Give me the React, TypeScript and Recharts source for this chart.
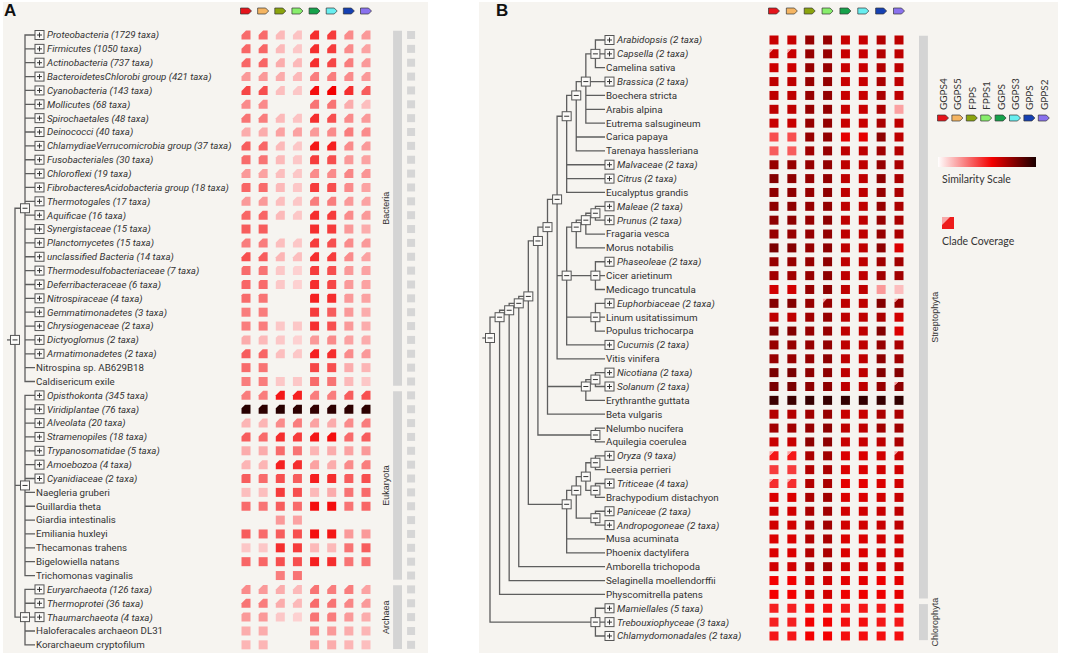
import React from "react";
import { ScatterChart, Scatter, XAxis, YAxis, ReferenceArea } from "recharts";

const W = 1084;
const H = 665;

// column genes (header glyphs + legend)
const genes = ["GGPS4", "GGPS5", "FPPS", "FPPS1", "GGPS", "GGPS3", "GPPS", "GPPS2"];
const geneColors = ["#e5141b", "#f5b562", "#8ba40e", "#88ee6c", "#16a24b", "#68eef0", "#1540b2", "#8a72ee"];

// ---------- panel A ----------
const taxaA = [
  "Proteobacteria (1729 taxa)", "Firmicutes (1050 taxa)", "Actinobacteria (737 taxa)",
  "BacteroidetesChlorobi group (421 taxa)", "Cyanobacteria (143 taxa)", "Mollicutes (68 taxa)",
  "Spirochaetales (48 taxa)", "Deinococci (40 taxa)", "ChlamydiaeVerrucomicrobia group (37 taxa)",
  "Fusobacteriales (30 taxa)", "Chloroflexi (19 taxa)", "FibrobacteresAcidobacteria group (18 taxa)",
  "Thermotogales (17 taxa)", "Aquificae (16 taxa)", "Synergistaceae (15 taxa)", "Planctomycetes (15 taxa)",
  "unclassified Bacteria (14 taxa)", "Thermodesulfobacteriaceae (7 taxa)", "Deferribacteraceae (6 taxa)",
  "Nitrospiraceae (4 taxa)", "Gemmatimonadetes (3 taxa)", "Chrysiogenaceae (2 taxa)", "Dictyoglomus (2 taxa)",
  "Armatimonadetes (2 taxa)", "Nitrospina sp. AB629B18", "Caldisericum exile",
  "Opisthokonta (345 taxa)", "Viridiplantae (76 taxa)", "Alveolata (20 taxa)", "Stramenopiles (18 taxa)",
  "Trypanosomatidae (5 taxa)", "Amoebozoa (4 taxa)", "Cyanidiaceae (2 taxa)", "Naegleria gruberi",
  "Guillardia theta", "Giardia intestinalis", "Emiliania huxleyi", "Thecamonas trahens",
  "Bigelowiella natans", "Trichomonas vaginalis",
  "Euryarchaeota (126 taxa)", "Thermoprotei (36 taxa)", "Thaumarchaeota (4 taxa)",
  "Haloferacales archaeon DL31", "Korarchaeum cryptofilum",
];

// similarity 0-100 per gene column, 0 = no hit
const simA = [
  [32, 32, 15, 13, 45, 42, 25, 22],
  [33, 33, 15, 12, 45, 42, 25, 20],
  [33, 33, 18, 15, 45, 40, 28, 22],
  [22, 22, 18, 15, 28, 28, 25, 22],
  [40, 38, 14, 12, 52, 55, 45, 35],
  [25, 25, 0, 0, 30, 30, 18, 14],
  [30, 28, 15, 13, 45, 38, 25, 22],
  [18, 18, 20, 20, 22, 25, 28, 25],
  [35, 33, 15, 12, 50, 48, 25, 22],
  [32, 30, 15, 12, 42, 38, 22, 20],
  [22, 20, 14, 12, 25, 25, 26, 23],
  [33, 32, 15, 12, 42, 38, 25, 20],
  [22, 22, 14, 12, 28, 28, 22, 20],
  [33, 33, 15, 12, 45, 42, 25, 22],
  [35, 35, 0, 0, 45, 42, 22, 18],
  [28, 28, 14, 12, 42, 38, 25, 22],
  [38, 35, 16, 14, 45, 42, 25, 20],
  [32, 30, 12, 10, 42, 38, 22, 20],
  [33, 32, 12, 10, 45, 40, 22, 20],
  [32, 30, 0, 0, 48, 45, 22, 20],
  [28, 28, 0, 0, 42, 35, 22, 18],
  [28, 28, 12, 12, 45, 38, 22, 18],
  [18, 15, 12, 10, 22, 25, 20, 18],
  [35, 33, 14, 12, 48, 45, 25, 22],
  [32, 30, 0, 0, 40, 38, 18, 16],
  [28, 28, 12, 12, 32, 30, 15, 12],
  [28, 28, 50, 48, 28, 28, 35, 38],
  [97, 96, 97, 96, 95, 96, 96, 96],
  [16, 16, 25, 28, 20, 18, 25, 28],
  [35, 32, 45, 42, 50, 52, 32, 35],
  [18, 18, 32, 30, 16, 18, 20, 22],
  [16, 16, 48, 45, 20, 18, 25, 28],
  [35, 32, 38, 35, 48, 45, 35, 38],
  [14, 14, 42, 38, 15, 18, 30, 32],
  [32, 30, 35, 32, 52, 52, 30, 33],
  [0, 0, 22, 20, 0, 0, 0, 0],
  [35, 32, 35, 38, 52, 50, 22, 22],
  [12, 12, 45, 42, 15, 15, 30, 35],
  [33, 33, 38, 38, 48, 45, 30, 30],
  [0, 0, 28, 30, 0, 0, 0, 0],
  [25, 22, 18, 15, 30, 28, 28, 20],
  [30, 28, 18, 15, 32, 30, 26, 22],
  [22, 22, 12, 10, 30, 28, 22, 18],
  [18, 18, 0, 0, 25, 22, 18, 16],
  [16, 16, 0, 0, 20, 18, 16, 14],
];

// clade coverage per row (1 = full)
const covA = [
  0.5, 0.5, 0.5, 0.5, 0.45, 0.5, 0.5, 0.6, 0.5, 0.75, 0.55, 0.8, 0.55, 0.55, 1, 0.55, 0.45, 0.8, 0.8, 0.85,
  1, 1, 0.75, 0.55, 1, 1,
  0.5, 0.6, 0.55, 0.55, 1, 0.6, 0.85, 1, 1, 1, 1, 1, 1, 1,
  0.5, 0.5, 0.8, 1, 1,
];

const treeA = [
  [0, 1, 2, 3, 4, 5, 6, 7, 8, 9, 10, 11, 12, 13, 14, 15, 16, 17, 18, 19, 20, 21, 22, 23, 24, 25],
  [26, 27, 28, 29, 30, 31, 32, 33, 34, 35, 36, 37, 38, 39],
  [40, 41, 42, 43, 44],
];

const groupsA = [
  { name: "Bacteria", first: 0, last: 25 },
  { name: "Eukaryota", first: 26, last: 39 },
  { name: "Archaea", first: 40, last: 44 },
];

// ---------- panel B ----------
const taxaB = [
  "Arabidopsis (2 taxa)", "Capsella (2 taxa)", "Camelina sativa", "Brassica (2 taxa)", "Boechera stricta",
  "Arabis alpina", "Eutrema salsugineum", "Carica papaya", "Tarenaya hassleriana", "Malvaceae (2 taxa)",
  "Citrus (2 taxa)", "Eucalyptus grandis", "Maleae (2 taxa)", "Prunus (2 taxa)", "Fragaria vesca",
  "Morus notabilis", "Phaseoleae (2 taxa)", "Cicer arietinum", "Medicago truncatula", "Euphorbiaceae (2 taxa)",
  "Linum usitatissimum", "Populus trichocarpa", "Cucumis (2 taxa)", "Vitis vinifera", "Nicotiana (2 taxa)",
  "Solanum (2 taxa)", "Erythranthe guttata", "Beta vulgaris", "Nelumbo nucifera", "Aquilegia coerulea",
  "Oryza (9 taxa)", "Leersia perrieri", "Triticeae (4 taxa)", "Brachypodium distachyon", "Paniceae (2 taxa)",
  "Andropogoneae (2 taxa)", "Musa acuminata", "Phoenix dactylifera", "Amborella trichopoda",
  "Selaginella moellendorffii", "Physcomitrella patens", "Mamiellales (5 taxa)", "Trebouxiophyceae (3 taxa)",
  "Chlamydomonadales (2 taxa)",
];

const simB = [
  [64, 64, 74, 74, 64, 64, 68, 66],
  [64, 64, 74, 74, 64, 64, 68, 66],
  [63, 63, 74, 74, 64, 64, 68, 66],
  [66, 66, 74, 75, 64, 64, 70, 66],
  [66, 66, 74, 75, 64, 64, 70, 66],
  [66, 66, 74, 75, 64, 64, 70, 20],
  [64, 64, 74, 75, 64, 64, 70, 66],
  [38, 38, 74, 75, 58, 58, 76, 66],
  [35, 35, 72, 74, 66, 66, 72, 68],
  [74, 74, 74, 75, 66, 66, 74, 70],
  [78, 76, 74, 75, 66, 66, 76, 70],
  [76, 76, 74, 76, 66, 66, 74, 70],
  [76, 76, 74, 75, 66, 66, 74, 70],
  [76, 76, 74, 76, 66, 66, 74, 70],
  [74, 74, 74, 75, 66, 66, 74, 70],
  [80, 78, 74, 76, 66, 66, 76, 60],
  [74, 74, 74, 76, 66, 66, 72, 72],
  [72, 72, 74, 76, 66, 66, 72, 72],
  [62, 62, 74, 76, 66, 66, 22, 14],
  [78, 78, 74, 74, 66, 66, 78, 74],
  [66, 66, 72, 74, 66, 66, 70, 62],
  [78, 78, 74, 74, 66, 66, 78, 60],
  [74, 74, 74, 75, 66, 66, 74, 70],
  [74, 74, 74, 76, 66, 66, 76, 72],
  [80, 80, 76, 76, 66, 66, 78, 78],
  [80, 80, 76, 76, 66, 66, 74, 76],
  [93, 93, 94, 94, 95, 95, 94, 95],
  [68, 68, 72, 74, 64, 64, 70, 70],
  [72, 72, 74, 76, 66, 66, 72, 72],
  [64, 64, 76, 76, 64, 64, 66, 70],
  [50, 50, 70, 72, 60, 60, 62, 64],
  [42, 42, 68, 70, 60, 60, 62, 62],
  [45, 45, 68, 70, 58, 58, 60, 62],
  [60, 60, 70, 72, 60, 60, 62, 64],
  [62, 62, 70, 72, 62, 62, 64, 66],
  [62, 62, 70, 72, 62, 62, 64, 66],
  [60, 60, 68, 70, 60, 60, 62, 62],
  [60, 60, 68, 70, 60, 60, 62, 62],
  [62, 62, 70, 72, 62, 62, 62, 64],
  [55, 55, 62, 62, 58, 58, 56, 58],
  [55, 55, 62, 62, 56, 56, 56, 58],
  [48, 48, 52, 52, 50, 50, 50, 52],
  [48, 48, 55, 55, 52, 52, 50, 50],
  [50, 50, 55, 55, 52, 52, 52, 52],
];

// cells with partial clade coverage
const partialB = [
  { row: 1, col: 0, cov: 0.6 }, { row: 1, col: 1, cov: 0.6 },
  { row: 19, col: 3, cov: 0.6 }, { row: 19, col: 7, cov: 0.6 },
  { row: 25, col: 7, cov: 0.6 },
  { row: 30, col: 0, cov: 0.5 }, { row: 30, col: 1, cov: 0.5 }, { row: 30, col: 7, cov: 0.6 },
  { row: 32, col: 0, cov: 0.6 }, { row: 32, col: 1, cov: 0.6 },
];

const treeB = [
  [
    [
      [
        [
          [
            [
              [
                [[[[0, 1, 2], 3, 4, 5, 6], 7, 8], 9, 10, 11],
                [[[[12, 13], 14], 15], [16, 17, 18], [19, 20, 21], 22],
                23,
              ],
              [[24, 25], 26],
              27,
            ],
            [28, 29],
          ],
          [[[[30, 31], [32, 33]], [34, 35]], 36, 37],
        ],
        38,
      ],
      39,
    ],
    40,
  ],
  [41, 42, 43],
];

const groupsB = [
  { name: "Streptophyta", first: 0, last: 40 },
  { name: "Chlorophyta", first: 41, last: 43 },
];

// ---------- layout ----------
const ROW = 13.86;
const A_ROW0 = 35;
const B_ROW0 = 40;
const TOP_ROW = -2.5;
const HEAD_A = (11 - A_ROW0) / ROW;
const HEAD_B = (11 - B_ROW0) / ROW;
const GROUP_A = 8.84;
const GROUP_B = 8.37;
const MARK_A = 9.63;
const CELL = 9;
const TEXT = "#333";
const LINE = "#5e5e5e";
const FONT = "Roboto, sans-serif";

// padding so that value a lands on pixel pa and value b on pixel pb
function pad(d0: number, d1: number, a: number, pa: number, b: number, pb: number, size: number) {
  const k = (pb - pa) / (b - a);
  return [pa - (a - d0) * k, size - (pb + (d1 - b) * k)];
}

function simColor(v: number) {
  const t = v / 100;
  if (t <= 0.55) {
    const k = t / 0.55;
    const g = Math.round(255 * (1 - k));
    return `rgb(${255 - Math.round(12 * k)},${g},${g})`;
  }
  const k = (t - 0.55) / 0.45;
  return `rgb(${Math.round(243 - k * (243 - 26))},0,0)`;
}

type Tree = number | Tree[];
const treeHeight = (t: Tree): number => (typeof t === "number" ? 0 : 1 + Math.max(...t.map(treeHeight)));

function layoutTree(tree: Tree) {
  const top = treeHeight(tree);
  const paths: { x: number; y: number }[][] = [];
  const nodes: { x: number; y: number }[] = [];
  const walk = (t: Tree): { x: number; y: number; first: number; last: number } => {
    if (typeof t === "number") return { x: top, y: t, first: t, last: t };
    const x = top - treeHeight(t);
    const kids = t.map(walk);
    const first = kids[0].first;
    const last = kids[kids.length - 1].last;
    const y = (first + last) / 2;
    const pts = [{ x: kids[0].x, y: kids[0].y }, { x, y: kids[0].y }];
    kids.slice(1).forEach((k) => pts.push({ x, y: k.y }, { x: k.x, y: k.y }, { x, y: k.y }));
    paths.push(pts);
    nodes.push({ x, y });
    return { x, y, first, last };
  };
  const root = walk(tree);
  paths.push([{ x: -0.8, y: root.y }, { x: 0, y: root.y }]);
  return { top, paths, nodes };
}

const lytA = layoutTree(treeA);
const lytB = layoutTree(treeB);

const cellsA = simA.flatMap((row, r) => row.map((v, c) => ({ x: c, y: r, v, cov: covA[r] }))).filter((d) => d.v > 0);
const cellsB = simB
  .flatMap((row, r) =>
    row.map((v, c) => {
      const p = partialB.find((q) => q.row === r && q.col === c);
      return { x: c, y: r, v, cov: p ? p.cov : 1 };
    })
  )
  .filter((d) => d.v > 0);

const leavesA = taxaA.map((name, i) => ({ x: lytA.top, y: i, name }));
const leavesB = taxaB.map((name, i) => ({ x: lytB.top, y: i, name }));
const headA = genes.map((g, i) => ({ x: i, y: HEAD_A, color: geneColors[i] }));
const headB = genes.map((g, i) => ({ x: i, y: HEAD_B, color: geneColors[i] }));
const marksA = taxaA.map((_, i) => ({ x: MARK_A, y: i }));

// axis domains wide enough to hold every mark (no clipping, no domain growth)
const TREE_A_DOM = [-1, lytA.top];
const TREE_B_DOM = [-1, lytB.top];
const CELLS_A_DOM = [-1, 10];
const CELLS_B_DOM = [-1, 9];
const ROWS_A_DOM = [TOP_ROW, taxaA.length];
const ROWS_B_DOM = [TOP_ROW, taxaB.length];

const pTreeA = pad(TREE_A_DOM[0], TREE_A_DOM[1], 0, 15, lytA.top, 35, W);
const pTreeB = pad(TREE_B_DOM[0], TREE_B_DOM[1], 0, 490, lytB.top, 605, W);
const pCellsA = pad(CELLS_A_DOM[0], CELLS_A_DOM[1], 0, 246, 7, 366, W);
const pCellsB = pad(CELLS_B_DOM[0], CELLS_B_DOM[1], 0, 774, 7, 899, W);
const pRowsA = pad(ROWS_A_DOM[0], ROWS_A_DOM[1], 0, A_ROW0, 1, A_ROW0 + ROW, H);
const pRowsB = pad(ROWS_B_DOM[0], ROWS_B_DOM[1], 0, B_ROW0, 1, B_ROW0 + ROW, H);

// shapes
const NodeBox = (p: any) => (
  <g>
    <rect x={p.cx - 4.5} y={p.cy - 4.5} width={9} height={9} fill="#fbfaf8" stroke="#555" strokeWidth={1} />
    <line x1={p.cx - 2.5} x2={p.cx + 2.5} y1={p.cy} y2={p.cy} stroke="#333" strokeWidth={1} />
  </g>
);

const leafShape = (fontSize: number) => (p: any) => {
  const { cx, cy, payload } = p;
  const collapsed = /taxa\)$/.test(payload.name);
  return (
    <g>
      {collapsed && (
        <g>
          <rect x={cx} y={cy - 4.5} width={9} height={9} fill="#fbfaf8" stroke="#555" strokeWidth={1} />
          <line x1={cx + 2} x2={cx + 7} y1={cy} y2={cy} stroke="#333" strokeWidth={1} />
          <line x1={cx + 4.5} x2={cx + 4.5} y1={cy - 2.5} y2={cy + 2.5} stroke="#333" strokeWidth={1} />
        </g>
      )}
      <text
        x={cx + (collapsed ? 12 : 1)}
        y={cy}
        dy="0.35em"
        fontFamily={FONT}
        fontSize={fontSize}
        fontStyle={collapsed ? "italic" : "normal"}
        fill={TEXT}
      >
        {payload.name}
      </text>
    </g>
  );
};

const cellShape = (tint: boolean) => (p: any) => {
  const { cx, cy, payload } = p;
  const s = CELL;
  const x0 = cx - s / 2;
  const y0 = cy - s / 2;
  const fill = simColor(payload.v);
  const cut = s * (1 - payload.cov);
  if (cut < 0.5) return <rect x={x0} y={y0} width={s} height={s} fill={fill} />;
  return (
    <g>
      <polygon
        points={`${x0},${y0 + cut} ${x0 + cut},${y0} ${x0 + s},${y0} ${x0 + s},${y0 + s} ${x0},${y0 + s}`}
        fill={fill}
      />
      {tint && <polygon points={`${x0},${y0} ${x0 + cut},${y0} ${x0},${y0 + cut}`} fill={simColor(Math.min(payload.v, 55) * 0.4)} />}
    </g>
  );
};

const geneIcon = (x: number, y: number, color: string) => (
  <path d={`M${x - 5.5},${y - 3} h8 l3,3 l-3,3 h-8 z`} fill={color} stroke="#333" strokeWidth={0.7} />
);
const IconShape = (p: any) => geneIcon(p.cx, p.cy, p.payload.color);

const MarkShape = (p: any) => <rect x={p.cx - 4} y={p.cy - 4} width={8} height={8} fill="#d6d6d6" />;

const groupLabel = (dx: number) => (p: any) => (
  <text
    x={p.cx + dx}
    y={p.cy}
    transform={`rotate(-90 ${p.cx + dx} ${p.cy})`}
    textAnchor="middle"
    dominantBaseline="central"
    fontFamily="'Liberation Sans', Arial, sans-serif"
    fontSize={9}
    fill={TEXT}
  >
    {p.payload.name}
  </text>
);

const Empty = () => <g />;

export default function App() {
  return (
    <div style={{ position: "absolute", left: 0, top: 0, width: W, height: H, background: "#fff", overflow: "hidden" }}>
      <div style={{ position: "absolute", left: 3, top: 2, width: 425, height: 651, background: "#f6f4f0" }} />
      <div style={{ position: "absolute", left: 479, top: 2, width: 579, height: 651, background: "#f6f4f0" }} />
      <div style={{ position: "absolute", left: 4, top: 1, font: "bold 17px 'Liberation Sans', Arial, sans-serif", color: "#111" }}>A</div>
      <div style={{ position: "absolute", left: 496, top: 1, font: "bold 17px 'Liberation Sans', Arial, sans-serif", color: "#111" }}>B</div>
      <div style={{ position: "absolute", left: 0, top: 0 }}>
        <ScatterChart width={W} height={H} margin={{ top: 0, right: 0, bottom: 0, left: 0 }}>
          <XAxis xAxisId="treeA" type="number" dataKey="x" domain={TREE_A_DOM} padding={{ left: pTreeA[0], right: pTreeA[1] }} hide />
          <XAxis xAxisId="cellsA" type="number" dataKey="x" domain={CELLS_A_DOM} padding={{ left: pCellsA[0], right: pCellsA[1] }} hide />
          <XAxis xAxisId="treeB" type="number" dataKey="x" domain={TREE_B_DOM} padding={{ left: pTreeB[0], right: pTreeB[1] }} hide />
          <XAxis xAxisId="cellsB" type="number" dataKey="x" domain={CELLS_B_DOM} padding={{ left: pCellsB[0], right: pCellsB[1] }} hide />
          <YAxis yAxisId="rowsA" type="number" dataKey="y" domain={ROWS_A_DOM} reversed padding={{ top: pRowsA[0], bottom: pRowsA[1] }} hide />
          <YAxis yAxisId="rowsB" type="number" dataKey="y" domain={ROWS_B_DOM} reversed padding={{ top: pRowsB[0], bottom: pRowsB[1] }} hide />

          {groupsA.map((g) => (
            <ReferenceArea
              key={g.name}
              xAxisId="cellsA"
              yAxisId="rowsA"
              x1={GROUP_A - 0.26}
              x2={GROUP_A + 0.26}
              y1={g.first - 0.3}
              y2={g.last + 0.3}
              fill="#d4d4d4"
              fillOpacity={1}
              stroke="none"
              ifOverflow="visible"
            />
          ))}
          {groupsB.map((g) => (
            <ReferenceArea
              key={g.name}
              xAxisId="cellsB"
              yAxisId="rowsB"
              x1={GROUP_B - 0.25}
              x2={GROUP_B + 0.25}
              y1={g.first - 0.3}
              y2={g.last + 0.3}
              fill="#d4d4d4"
              fillOpacity={1}
              stroke="none"
              ifOverflow="visible"
            />
          ))}

          {lytA.paths.map((pts, i) => (
            <Scatter
              key={`ta${i}`}
              xAxisId="treeA"
              yAxisId="rowsA"
              data={pts}
              line={{ stroke: LINE, strokeWidth: 1.3, fill: "none" }}
              shape={Empty}
              isAnimationActive={false}
            />
          ))}
          {lytB.paths.map((pts, i) => (
            <Scatter
              key={`tb${i}`}
              xAxisId="treeB"
              yAxisId="rowsB"
              data={pts}
              line={{ stroke: LINE, strokeWidth: 1.3, fill: "none" }}
              shape={Empty}
              isAnimationActive={false}
            />
          ))}

          <Scatter xAxisId="treeA" yAxisId="rowsA" data={lytA.nodes} shape={NodeBox} isAnimationActive={false} />
          <Scatter xAxisId="treeB" yAxisId="rowsB" data={lytB.nodes} shape={NodeBox} isAnimationActive={false} />
          <Scatter xAxisId="treeA" yAxisId="rowsA" data={leavesA} shape={leafShape(9.7)} isAnimationActive={false} />
          <Scatter xAxisId="treeB" yAxisId="rowsB" data={leavesB} shape={leafShape(9.8)} isAnimationActive={false} />

          <Scatter xAxisId="cellsA" yAxisId="rowsA" data={cellsA} shape={cellShape(false)} isAnimationActive={false} />
          <Scatter xAxisId="cellsB" yAxisId="rowsB" data={cellsB} shape={cellShape(true)} isAnimationActive={false} />
          <Scatter xAxisId="cellsA" yAxisId="rowsA" data={marksA} shape={MarkShape} isAnimationActive={false} />
          <Scatter xAxisId="cellsA" yAxisId="rowsA" data={headA} shape={IconShape} isAnimationActive={false} />
          <Scatter xAxisId="cellsB" yAxisId="rowsB" data={headB} shape={IconShape} isAnimationActive={false} />

          <Scatter
            xAxisId="cellsA"
            yAxisId="rowsA"
            data={groupsA.map((g) => ({ x: GROUP_A, y: (g.first + g.last) / 2, name: g.name }))}
            shape={groupLabel(-11.5)}
            isAnimationActive={false}
          />
          <Scatter
            xAxisId="cellsB"
            yAxisId="rowsB"
            data={groupsB.map((g) => ({ x: GROUP_B, y: (g.first + g.last) / 2, name: g.name }))}
            shape={groupLabel(11.5)}
            isAnimationActive={false}
          />
        </ScatterChart>
      </div>

      {/* legend of panel B */}
      <svg width={W} height={H} style={{ position: "absolute", left: 0, top: 0, pointerEvents: "none" }}>
        <defs>
          <linearGradient id="simScale" x1="0" x2="1" y1="0" y2="0">
            <stop offset="0" stopColor="#ffffff" />
            <stop offset="0.55" stopColor="#f30000" />
            <stop offset="1" stopColor="#1a0000" />
          </linearGradient>
        </defs>
        {genes.map((g, i) => {
          const x = 943 + i * 14.4;
          return (
            <g key={g}>
              <text
                x={x}
                y={110}
                transform={`rotate(-90 ${x} 110)`}
                dominantBaseline="central"
                fontFamily="Lato, sans-serif"
                fontSize={10}
                fill={TEXT}
              >
                {g}
              </text>
              {geneIcon(x, 118, geneColors[i])}
            </g>
          );
        })}
        <rect x={938} y={157} width={98} height={10} fill="url(#simScale)" />
        <text x={942} y={183} fontFamily="Lato, sans-serif" fontSize={10.5} fill={TEXT}>
          Similarity Scale
        </text>
        <rect x={942} y={217} width={12} height={12} fill="#ee1c1c" />
        <polygon points="942,217 950,217 942,225" fill="#f7a9a9" />
        <text x={942} y={245} fontFamily="Lato, sans-serif" fontSize={10.5} fill={TEXT}>
          Clade Coverage
        </text>
      </svg>
    </div>
  );
}
